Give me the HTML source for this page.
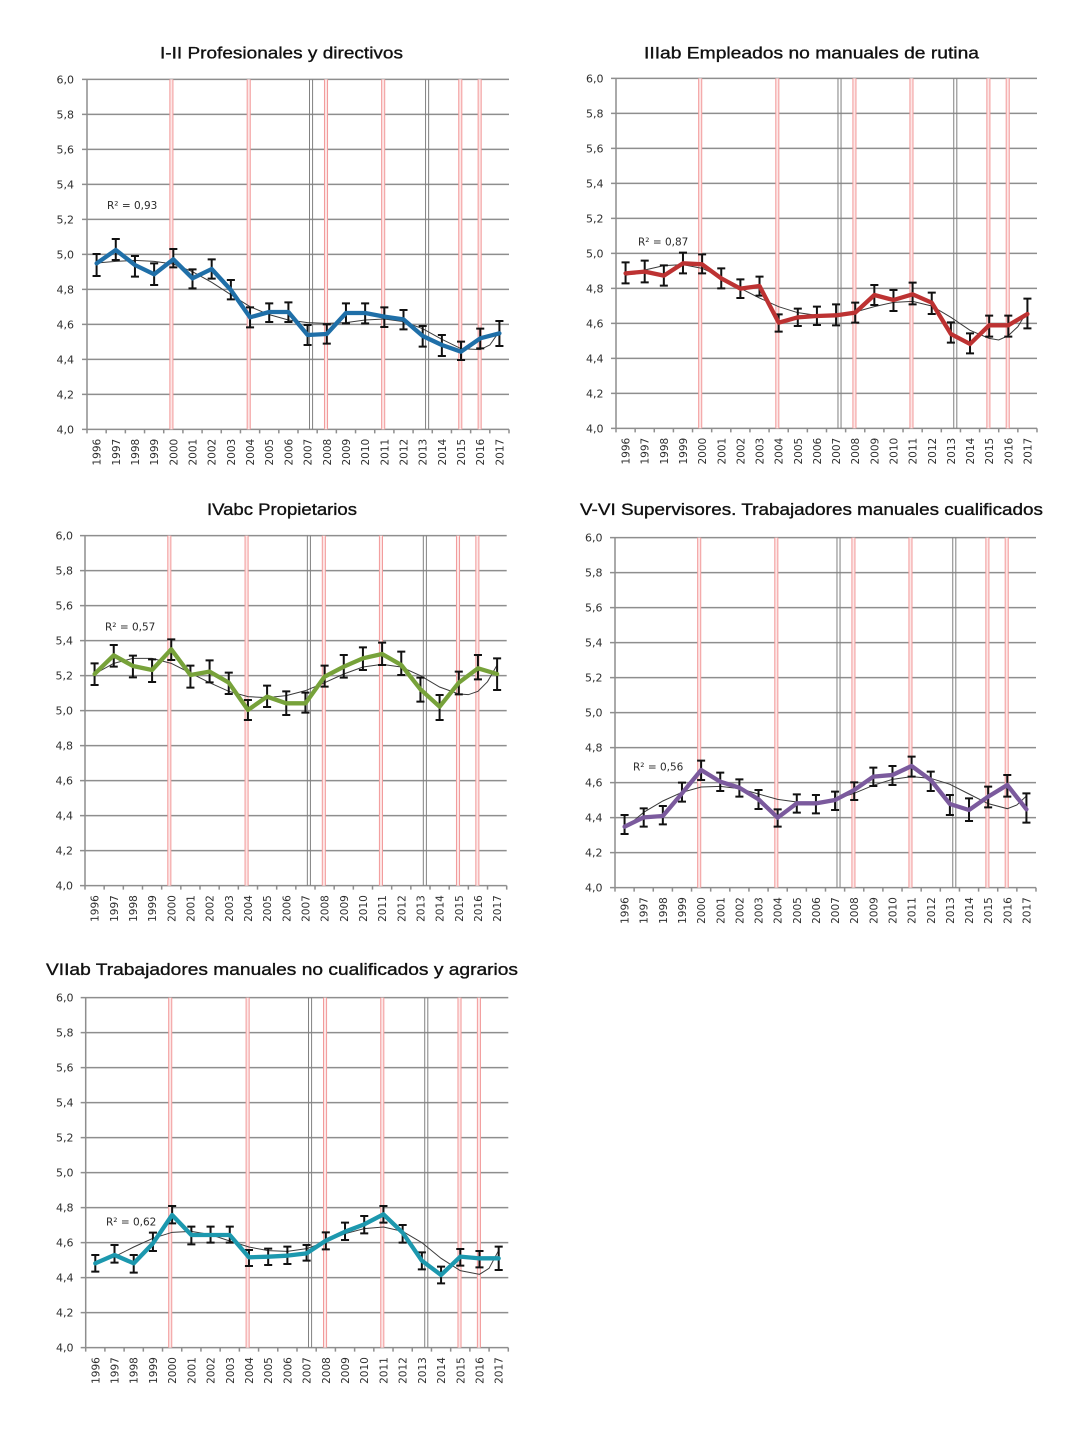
<!DOCTYPE html>
<html><head><meta charset="utf-8"><style>
html,body{margin:0;padding:0;background:#fff}
svg{display:block}
.t{font-family:"Liberation Sans",sans-serif;font-size:17px;fill:#111;stroke:#111;stroke-width:0.35}
.yl{font-family:"DejaVu Sans","Liberation Sans",sans-serif;font-size:11px;fill:#2e2e2e;text-anchor:end}
.xl{font-family:"DejaVu Sans","Liberation Sans",sans-serif;font-size:10.5px;fill:#2e2e2e;text-anchor:end}
.r2{font-family:"DejaVu Sans","Liberation Sans",sans-serif;font-size:10.5px;fill:#2a2a2a}
.ns{vector-effect:non-scaling-stroke;fill:none}
.grid{stroke:#8e8e8e;stroke-width:1.5}
.ax{stroke:#8e8e8e;stroke-width:1.5}
.red{stroke:#f29a9a;stroke-width:1}
.gry{stroke:#808080;stroke-width:1}
.trend{stroke:#3a3a3a;stroke-width:1}
.err{stroke:#111;stroke-width:2}
.ser{stroke-width:4.3;stroke-linejoin:round;stroke-linecap:round}
</style></head><body>
<svg width="1089" height="1438" viewBox="0 0 1089 1438" xmlns="http://www.w3.org/2000/svg">
<rect width="1089" height="1438" fill="#fff"/>

<!-- ================= CHART 1 ================= -->
<text class="t" x="160" y="58.5" textLength="243" lengthAdjust="spacingAndGlyphs">I-II Profesionales y directivos</text>
<g transform="translate(96.59,30) scale(19.182,0.333333)">
 <g transform="translate(0,148)">
  <path class="ns grid" d="M-.76,0H21.5M-.76,105H21.5M-.76,210H21.5M-.76,315H21.5M-.76,420H21.5M-.76,525H21.5M-.76,630H21.5M-.76,735H21.5M-.76,840H21.5M-.76,945H21.5M-.76,1050H21.5"/>
  <g fill="#fde6e6"><rect x="3.82" y="0" width=".16" height="1050"/><rect x="7.85" y="0" width=".16" height="1050"/><rect x="11.88" y="0" width=".16" height="1050"/><rect x="14.86" y="0" width=".16" height="1050"/><rect x="18.88" y="0" width=".16" height="1050"/><rect x="19.89" y="0" width=".16" height="1050"/></g>
  <path class="ns red" d="M3.82,0V1050M3.98,0V1050M7.85,0V1050M8.01,0V1050M11.88,0V1050M12.04,0V1050M14.86,0V1050M15.02,0V1050M18.88,0V1050M19.04,0V1050M19.89,0V1050M20.05,0V1050"/>
  <path class="ns gry" d="M11.1,0V1050M11.26,0V1050M17.15,0V1050M17.31,0V1050"/>
  <path class="ns ax" d="M-.5,0V1062M.5,1050v12M1.5,1050v12M2.5,1050v12M3.5,1050v12M4.5,1050v12M5.5,1050v12M6.5,1050v12M7.5,1050v12M8.5,1050v12M9.5,1050v12M10.5,1050v12M11.5,1050v12M12.5,1050v12M13.5,1050v12M14.5,1050v12M15.5,1050v12M16.5,1050v12M17.5,1050v12M18.5,1050v12M19.5,1050v12M20.5,1050v12M21.5,1050v12"/>
 </g>
 <polyline class="ns trend" points="0,699 1,694 2,691 3,694 4,702 5,725 6,757 7,794 8,830 9,854 10,870 11,878 12,880 13,878 14,870 15,867 16,875 17,896 18,928 19,956 20,959 20.5,945 21,904"/>
 <path class="ns err" d="M0,672V738M-.21,672H.21M-.21,738H.21M1,627V690M.79,627H1.21M.79,690H1.21M2,678V740M1.79,678H2.21M1.79,740H2.21M3,700V765M2.79,700H3.21M2.79,765H3.21M4,657V712M3.79,657H4.21M3.79,712H4.21M5,718V775M4.79,718H5.21M4.79,775H5.21M6,688V746M5.79,688H6.21M5.79,746H6.21M7,750V808M6.79,750H7.21M6.79,808H7.21M8,832V892M7.79,832H8.21M7.79,892H8.21M9,820V876M8.79,820H9.21M8.79,876H9.21M10,817V876M9.79,817H10.21M9.79,876H10.21M11,885V945M10.79,885H11.21M10.79,945H11.21M12,883V941M11.79,883H12.21M11.79,941H12.21M13,820V880M12.79,820H13.21M12.79,880H13.21M14,820V880M13.79,820H14.21M13.79,880H14.21M15,832V891M14.79,832H15.21M14.79,891H15.21M16,840V898M15.79,840H16.21M15.79,898H16.21M17,888V950M16.79,888H17.21M16.79,950H17.21M18,915V978M17.79,915H18.21M17.79,978H18.21M19,935V990M18.79,935H19.21M18.79,990H19.21M20,896V955M19.79,896H20.21M19.79,955H20.21M21,873V948M20.79,873H21.21M20.79,948H21.21"/>
 <polyline class="ns ser" stroke="#1f6fa8" points="0,700 1,660 2,705 3,733 4,688 5,745 6,717 7,780 8,862 9,846 10,846 11,915 12,912 13,849 14,849 15,860 16,868 17,918 18,945 19,965 20,925 21,910"/>
</g>
<g class="yl"><text x="74" y="83.3">6,0</text><text x="74" y="118.3">5,8</text><text x="74" y="153.3">5,6</text><text x="74" y="188.3">5,4</text><text x="74" y="223.3">5,2</text><text x="74" y="258.3">5,0</text><text x="74" y="293.3">4,8</text><text x="74" y="328.3">4,6</text><text x="74" y="363.3">4,4</text><text x="74" y="398.3">4,2</text><text x="74" y="433.3">4,0</text></g>
<g class="xl" transform="rotate(-90)"><text x="-438.8" y="100.6">1996</text><text x="-438.8" y="119.8">1997</text><text x="-438.8" y="139.0">1998</text><text x="-438.8" y="158.1">1999</text><text x="-438.8" y="177.3">2000</text><text x="-438.8" y="196.5">2001</text><text x="-438.8" y="215.7">2002</text><text x="-438.8" y="234.9">2003</text><text x="-438.8" y="254.0">2004</text><text x="-438.8" y="273.2">2005</text><text x="-438.8" y="292.4">2006</text><text x="-438.8" y="311.6">2007</text><text x="-438.8" y="330.8">2008</text><text x="-438.8" y="350.0">2009</text><text x="-438.8" y="369.1">2010</text><text x="-438.8" y="388.3">2011</text><text x="-438.8" y="407.5">2012</text><text x="-438.8" y="426.7">2013</text><text x="-438.8" y="445.9">2014</text><text x="-438.8" y="465.0">2015</text><text x="-438.8" y="484.2">2016</text><text x="-438.8" y="503.4">2017</text></g>
<text class="r2" x="107" y="209">R² = 0,93</text>

<!-- ================= CHART 2 ================= -->
<text class="t" x="644" y="58.5" textLength="335" lengthAdjust="spacingAndGlyphs">IIIab Empleados no manuales de rutina</text>
<g transform="translate(625.57,30) scale(19.136,0.333333)">
 <g transform="translate(0,145)">
  <path class="ns grid" d="M-.76,0H21.5M-.76,105H21.5M-.76,210H21.5M-.76,315H21.5M-.76,420H21.5M-.76,525H21.5M-.76,630H21.5M-.76,735H21.5M-.76,840H21.5M-.76,945H21.5M-.76,1050H21.5"/>
  <g fill="#fde6e6"><rect x="3.82" y="0" width=".16" height="1050"/><rect x="7.85" y="0" width=".16" height="1050"/><rect x="11.88" y="0" width=".16" height="1050"/><rect x="14.86" y="0" width=".16" height="1050"/><rect x="18.88" y="0" width=".16" height="1050"/><rect x="19.89" y="0" width=".16" height="1050"/></g>
  <path class="ns red" d="M3.82,0V1050M3.98,0V1050M7.85,0V1050M8.01,0V1050M11.88,0V1050M12.04,0V1050M14.86,0V1050M15.02,0V1050M18.88,0V1050M19.04,0V1050M19.89,0V1050M20.05,0V1050"/>
  <path class="ns gry" d="M11.1,0V1050M11.26,0V1050M17.15,0V1050M17.31,0V1050"/>
  <path class="ns ax" d="M-.5,0V1062M.5,1050v12M1.5,1050v12M2.5,1050v12M3.5,1050v12M4.5,1050v12M5.5,1050v12M6.5,1050v12M7.5,1050v12M8.5,1050v12M9.5,1050v12M10.5,1050v12M11.5,1050v12M12.5,1050v12M13.5,1050v12M14.5,1050v12M15.5,1050v12M16.5,1050v12M17.5,1050v12M18.5,1050v12M19.5,1050v12M20.5,1050v12M21.5,1050v12"/>
 </g>
 <polyline class="ns trend" points="0,736 1,720 2,707 3,704 4,715 5,741 6,775 7,804 8,830 9,848 10,856 11,856 12,846 13,830 14,817 15,814 16,828 17,862 18,901 19,925 19.5,930 20,917 20.5,890 21,843"/>
 <path class="ns err" d="M0,697V760M-.21,697H.21M-.21,760H.21M1,692V757M.79,692H1.21M.79,757H1.21M2,706V767M1.79,706H2.21M1.79,767H2.21M3,668V730M2.79,668H3.21M2.79,730H3.21M4,673V730M3.79,673H4.21M3.79,730H4.21M5,715V775M4.79,715H5.21M4.79,775H5.21M6,748V804M5.79,748H6.21M5.79,804H6.21M7,740V797M6.79,740H7.21M6.79,797H7.21M8,853V905M7.79,853H8.21M7.79,905H8.21M9,836V888M8.79,836H9.21M8.79,888H9.21M10,830V885M9.79,830H10.21M9.79,885H10.21M11,823V886M10.79,823H11.21M10.79,886H11.21M12,818V878M11.79,818H12.21M11.79,878H12.21M13,765V825M12.79,765H13.21M12.79,825H13.21M14,780V843M13.79,780H14.21M13.79,843H14.21M15,758V823M14.79,758H15.21M14.79,823H15.21M16,788V852M15.79,788H16.21M15.79,852H16.21M17,877V938M16.79,877H17.21M16.79,938H17.21M18,910V970M17.79,910H18.21M17.79,970H18.21M19,857V920M18.79,857H19.21M18.79,920H19.21M20,857V920M19.79,857H20.21M19.79,920H20.21M21,806V895M20.79,806H21.21M20.79,895H21.21"/>
 <polyline class="ns ser" stroke="#bd3232" points="0,730 1,725 2,737 3,700 4,703 5,745 6,776 7,768 8,878 9,862 10,858 11,856 12,848 13,795 14,810 15,793 16,818 17,912 18,942 19,886 20,886 21,852"/>
</g>
<g class="yl"><text x="603.5" y="82.3">6,0</text><text x="603.5" y="117.3">5,8</text><text x="603.5" y="152.3">5,6</text><text x="603.5" y="187.3">5,4</text><text x="603.5" y="222.3">5,2</text><text x="603.5" y="257.3">5,0</text><text x="603.5" y="292.3">4,8</text><text x="603.5" y="327.3">4,6</text><text x="603.5" y="362.3">4,4</text><text x="603.5" y="397.3">4,2</text><text x="603.5" y="432.3">4,0</text></g>
<g class="xl" transform="rotate(-90)"><text x="-437.8" y="629.6">1996</text><text x="-437.8" y="648.7">1997</text><text x="-437.8" y="667.8">1998</text><text x="-437.8" y="687.0">1999</text><text x="-437.8" y="706.1">2000</text><text x="-437.8" y="725.3">2001</text><text x="-437.8" y="744.4">2002</text><text x="-437.8" y="763.5">2003</text><text x="-437.8" y="782.7">2004</text><text x="-437.8" y="801.8">2005</text><text x="-437.8" y="820.9">2006</text><text x="-437.8" y="840.1">2007</text><text x="-437.8" y="859.2">2008</text><text x="-437.8" y="878.3">2009</text><text x="-437.8" y="897.5">2010</text><text x="-437.8" y="916.6">2011</text><text x="-437.8" y="935.8">2012</text><text x="-437.8" y="954.9">2013</text><text x="-437.8" y="974.0">2014</text><text x="-437.8" y="993.2">2015</text><text x="-437.8" y="1012.3">2016</text><text x="-437.8" y="1031.4">2017</text></g>
<text class="r2" x="638" y="245.7">R² = 0,87</text>

<!-- ================= CHART 3 ================= -->
<text class="t" x="207" y="515" textLength="150" lengthAdjust="spacingAndGlyphs">IVabc Propietarios</text>
<g transform="translate(94.58,490) scale(19.168,0.333333)">
 <g transform="translate(0,137)">
  <path class="ns grid" d="M-.76,0H21.5M-.76,105H21.5M-.76,210H21.5M-.76,315H21.5M-.76,420H21.5M-.76,525H21.5M-.76,630H21.5M-.76,735H21.5M-.76,840H21.5M-.76,945H21.5M-.76,1050H21.5"/>
  <g fill="#fde6e6"><rect x="3.82" y="0" width=".16" height="1050"/><rect x="7.85" y="0" width=".16" height="1050"/><rect x="11.88" y="0" width=".16" height="1050"/><rect x="14.86" y="0" width=".16" height="1050"/><rect x="18.88" y="0" width=".16" height="1050"/><rect x="19.89" y="0" width=".16" height="1050"/></g>
  <path class="ns red" d="M3.82,0V1050M3.98,0V1050M7.85,0V1050M8.01,0V1050M11.88,0V1050M12.04,0V1050M14.86,0V1050M15.02,0V1050M18.88,0V1050M19.04,0V1050M19.89,0V1050M20.05,0V1050"/>
  <path class="ns gry" d="M11.1,0V1050M11.26,0V1050M17.15,0V1050M17.31,0V1050"/>
  <path class="ns ax" d="M-.5,0V1062M.5,1050v12M1.5,1050v12M2.5,1050v12M3.5,1050v12M4.5,1050v12M5.5,1050v12M6.5,1050v12M7.5,1050v12M8.5,1050v12M9.5,1050v12M10.5,1050v12M11.5,1050v12M12.5,1050v12M13.5,1050v12M14.5,1050v12M15.5,1050v12M16.5,1050v12M17.5,1050v12M18.5,1050v12M19.5,1050v12M20.5,1050v12M21.5,1050v12"/>
 </g>
 <polyline class="ns trend" points="0,552 1,520 2,505 3,505 4,520 5,549 6,578 7,604 8,620 9,623 10,617 11,602 12,578 13,552 14,531 15,523 16,531 17,557 18,591 19,612 19.5,614 20,604 20.5,575 21,525"/>
 <path class="ns err" d="M0,520V585M-.21,520H.21M-.21,585H.21M1,465V530M.79,465H1.21M.79,530H1.21M2,497V562M1.79,497H2.21M1.79,562H2.21M3,508V576M2.79,508H3.21M2.79,576H3.21M4,448V510M3.79,448H4.21M3.79,510H4.21M5,527V593M4.79,527H5.21M4.79,593H5.21M6,511V577M5.79,511H6.21M5.79,577H6.21M7,548V612M6.79,548H7.21M6.79,612H7.21M8,630V690M7.79,630H8.21M7.79,690H8.21M9,587V651M8.79,587H9.21M8.79,651H9.21M10,604V675M9.79,604H10.21M9.79,675H10.21M11,608V668M10.79,608H11.21M10.79,668H11.21M12,527V590M11.79,527H12.21M11.79,590H12.21M13,495V563M12.79,495H13.21M12.79,563H13.21M14,472V540M13.79,472H14.21M13.79,540H14.21M15,458V525M14.79,458H15.21M14.79,525H15.21M16,485V555M15.79,485H16.21M15.79,555H16.21M17,563V635M16.79,563H17.21M16.79,635H17.21M18,615V690M17.79,615H18.21M17.79,690H18.21M19,545V613M18.79,545H19.21M18.79,613H19.21M20,495V568M19.79,495H20.21M19.79,568H20.21M21,505V600M20.79,505H21.21M20.79,600H21.21"/>
 <polyline class="ns ser" stroke="#77a23a" points="0,552 1,496 2,528 3,540 4,478 5,555 6,545 7,578 8,660 9,620 10,640 11,640 12,560 13,530 14,505 15,492 16,525 17,598 18,650 19,578 20,535 21,552"/>
</g>
<g class="yl"><text x="73" y="539.7">6,0</text><text x="73" y="574.7">5,8</text><text x="73" y="609.7">5,6</text><text x="73" y="644.7">5,4</text><text x="73" y="679.7">5,2</text><text x="73" y="714.7">5,0</text><text x="73" y="749.7">4,8</text><text x="73" y="784.7">4,6</text><text x="73" y="819.7">4,4</text><text x="73" y="854.7">4,2</text><text x="73" y="889.7">4,0</text></g>
<g class="xl" transform="rotate(-90)"><text x="-895.2" y="98.6">1996</text><text x="-895.2" y="117.8">1997</text><text x="-895.2" y="136.9">1998</text><text x="-895.2" y="156.1">1999</text><text x="-895.2" y="175.3">2000</text><text x="-895.2" y="194.4">2001</text><text x="-895.2" y="213.6">2002</text><text x="-895.2" y="232.8">2003</text><text x="-895.2" y="251.9">2004</text><text x="-895.2" y="271.1">2005</text><text x="-895.2" y="290.3">2006</text><text x="-895.2" y="309.4">2007</text><text x="-895.2" y="328.6">2008</text><text x="-895.2" y="347.8">2009</text><text x="-895.2" y="366.9">2010</text><text x="-895.2" y="386.1">2011</text><text x="-895.2" y="405.3">2012</text><text x="-895.2" y="424.4">2013</text><text x="-895.2" y="443.6">2014</text><text x="-895.2" y="462.8">2015</text><text x="-895.2" y="481.9">2016</text><text x="-895.2" y="501.1">2017</text></g>
<text class="r2" x="105" y="630.7">R² = 0,57</text>

<!-- ================= CHART 4 ================= -->
<text class="t" x="580" y="515" textLength="463" lengthAdjust="spacingAndGlyphs">V-VI Supervisores. Trabajadores manuales cualificados</text>
<g transform="translate(624.57,490) scale(19.136,0.333333)">
 <g transform="translate(0,143)">
  <path class="ns grid" d="M-.76,0H21.5M-.76,105H21.5M-.76,210H21.5M-.76,315H21.5M-.76,420H21.5M-.76,525H21.5M-.76,630H21.5M-.76,735H21.5M-.76,840H21.5M-.76,945H21.5M-.76,1050H21.5"/>
  <g fill="#fde6e6"><rect x="3.82" y="0" width=".16" height="1050"/><rect x="7.85" y="0" width=".16" height="1050"/><rect x="11.88" y="0" width=".16" height="1050"/><rect x="14.86" y="0" width=".16" height="1050"/><rect x="18.88" y="0" width=".16" height="1050"/><rect x="19.89" y="0" width=".16" height="1050"/></g>
  <path class="ns red" d="M3.82,0V1050M3.98,0V1050M7.85,0V1050M8.01,0V1050M11.88,0V1050M12.04,0V1050M14.86,0V1050M15.02,0V1050M18.88,0V1050M19.04,0V1050M19.89,0V1050M20.05,0V1050"/>
  <path class="ns gry" d="M11.1,0V1050M11.26,0V1050M17.15,0V1050M17.31,0V1050"/>
  <path class="ns ax" d="M-.5,0V1062M.5,1050v12M1.5,1050v12M2.5,1050v12M3.5,1050v12M4.5,1050v12M5.5,1050v12M6.5,1050v12M7.5,1050v12M8.5,1050v12M9.5,1050v12M10.5,1050v12M11.5,1050v12M12.5,1050v12M13.5,1050v12M14.5,1050v12M15.5,1050v12M16.5,1050v12M17.5,1050v12M18.5,1050v12M19.5,1050v12M20.5,1050v12M21.5,1050v12"/>
 </g>
 <polyline class="ns trend" points="0,1015 1,967 2,933 3,907 4,891 5,889 6,896 7,912 8,928 9,936 10,936 11,928 12,910 13,886 14,868 15,860 16,865 17,883 18,912 19,941 20,956 20.5,945 21,918"/>
 <path class="ns err" d="M0,975V1032M-.21,975H.21M-.21,1032H.21M1,955V1010M.79,955H1.21M.79,1010H1.21M2,948V1003M1.79,948H2.21M1.79,1003H2.21M3,878V935M2.79,878H3.21M2.79,935H3.21M4,812V870M3.79,812H4.21M3.79,870H4.21M5,848V903M4.79,848H5.21M4.79,903H5.21M6,868V920M5.79,868H6.21M5.79,920H6.21M7,900V957M6.79,900H7.21M6.79,957H7.21M8,958V1010M7.79,958H8.21M7.79,1010H8.21M9,913V968M8.79,913H9.21M8.79,968H9.21M10,915V970M9.79,915H10.21M9.79,970H10.21M11,905V960M10.79,905H11.21M10.79,960H11.21M12,877V930M11.79,877H12.21M11.79,930H12.21M13,833V888M12.79,833H13.21M12.79,888H13.21M14,828V885M13.79,828H14.21M13.79,885H14.21M15,800V860M14.79,800H15.21M14.79,860H15.21M16,845V903M15.79,845H16.21M15.79,903H16.21M17,915V975M16.79,915H17.21M16.79,975H17.21M18,925V993M17.79,925H18.21M17.79,993H18.21M19,890V952M18.79,890H19.21M18.79,952H19.21M20,855V920M19.79,855H20.21M19.79,920H20.21M21,910V998M20.79,910H21.21M20.79,998H21.21"/>
 <polyline class="ns ser" stroke="#7b5a9d" points="0,1010 1,982 2,978 3,910 4,840 5,875 6,893 7,928 8,983 9,940 10,940 11,930 12,900 13,860 14,855 15,828 16,870 17,942 18,960 19,920 20,885 21,958"/>
</g>
<g class="yl"><text x="602.5" y="541.7">6,0</text><text x="602.5" y="576.7">5,8</text><text x="602.5" y="611.7">5,6</text><text x="602.5" y="646.7">5,4</text><text x="602.5" y="681.7">5,2</text><text x="602.5" y="716.7">5,0</text><text x="602.5" y="751.7">4,8</text><text x="602.5" y="786.7">4,6</text><text x="602.5" y="821.7">4,4</text><text x="602.5" y="856.7">4,2</text><text x="602.5" y="891.7">4,0</text></g>
<g class="xl" transform="rotate(-90)"><text x="-897.2" y="628.6">1996</text><text x="-897.2" y="647.7">1997</text><text x="-897.2" y="666.8">1998</text><text x="-897.2" y="686.0">1999</text><text x="-897.2" y="705.1">2000</text><text x="-897.2" y="724.3">2001</text><text x="-897.2" y="743.4">2002</text><text x="-897.2" y="762.5">2003</text><text x="-897.2" y="781.7">2004</text><text x="-897.2" y="800.8">2005</text><text x="-897.2" y="819.9">2006</text><text x="-897.2" y="839.1">2007</text><text x="-897.2" y="858.2">2008</text><text x="-897.2" y="877.3">2009</text><text x="-897.2" y="896.5">2010</text><text x="-897.2" y="915.6">2011</text><text x="-897.2" y="934.8">2012</text><text x="-897.2" y="953.9">2013</text><text x="-897.2" y="973.0">2014</text><text x="-897.2" y="992.2">2015</text><text x="-897.2" y="1011.3">2016</text><text x="-897.2" y="1030.4">2017</text></g>
<text class="r2" x="633" y="770.7">R² = 0,56</text>

<!-- ================= CHART 5 ================= -->
<text class="t" x="46" y="975" textLength="472" lengthAdjust="spacingAndGlyphs">VIIab Trabajadores manuales no cualificados y agrarios</text>
<g transform="translate(95.30,950) scale(19.209,0.333333)">
 <g transform="translate(0,143)">
  <path class="ns grid" d="M-.76,0H21.5M-.76,105H21.5M-.76,210H21.5M-.76,315H21.5M-.76,420H21.5M-.76,525H21.5M-.76,630H21.5M-.76,735H21.5M-.76,840H21.5M-.76,945H21.5M-.76,1050H21.5"/>
  <g fill="#fde6e6"><rect x="3.82" y="0" width=".16" height="1050"/><rect x="7.85" y="0" width=".16" height="1050"/><rect x="11.88" y="0" width=".16" height="1050"/><rect x="14.86" y="0" width=".16" height="1050"/><rect x="18.88" y="0" width=".16" height="1050"/><rect x="19.89" y="0" width=".16" height="1050"/></g>
  <path class="ns red" d="M3.82,0V1050M3.98,0V1050M7.85,0V1050M8.01,0V1050M11.88,0V1050M12.04,0V1050M14.86,0V1050M15.02,0V1050M18.88,0V1050M19.04,0V1050M19.89,0V1050M20.05,0V1050"/>
  <path class="ns gry" d="M11.1,0V1050M11.26,0V1050M17.15,0V1050M17.31,0V1050"/>
  <path class="ns ax" d="M-.5,0V1062M.5,1050v12M1.5,1050v12M2.5,1050v12M3.5,1050v12M4.5,1050v12M5.5,1050v12M6.5,1050v12M7.5,1050v12M8.5,1050v12M9.5,1050v12M10.5,1050v12M11.5,1050v12M12.5,1050v12M13.5,1050v12M14.5,1050v12M15.5,1050v12M16.5,1050v12M17.5,1050v12M18.5,1050v12M19.5,1050v12M20.5,1050v12M21.5,1050v12"/>
 </g>
 <polyline class="ns trend" points="0,941 1,920 2,891 3,865 4,847 5,844 6,854 7,873 8,891 9,902 10,904 11,896 12,875 13,851 14,836 15,831 16,844 17,878 18,925 19,962 20,973 20.5,955 21,901"/>
 <path class="ns err" d="M0,915V965M-.21,915H.21M-.21,965H.21M1,885V938M.79,885H1.21M.79,938H1.21M2,915V968M1.79,915H2.21M1.79,968H2.21M3,848V903M2.79,848H3.21M2.79,903H3.21M4,768V820M3.79,768H4.21M3.79,820H4.21M5,830V883M4.79,830H5.21M4.79,883H5.21M6,830V878M5.79,830H6.21M5.79,878H6.21M7,830V878M6.79,830H7.21M6.79,878H7.21M8,900V948M7.79,900H8.21M7.79,948H8.21M9,896V945M8.79,896H9.21M8.79,945H9.21M10,890V942M9.79,890H10.21M9.79,942H10.21M11,885V932M10.79,885H11.21M10.79,932H11.21M12,847V898M11.79,847H12.21M11.79,898H12.21M13,818V870M12.79,818H13.21M12.79,870H13.21M14,798V850M13.79,798H14.21M13.79,850H14.21M15,768V818M14.79,768H15.21M14.79,818H15.21M16,825V878M15.79,825H16.21M15.79,878H16.21M17,907V958M16.79,907H17.21M16.79,958H17.21M18,950V1000M17.79,950H18.21M17.79,1000H18.21M19,897V947M18.79,897H19.21M18.79,947H19.21M20,903V952M19.79,903H20.21M19.79,952H20.21M21,890V960M20.79,890H21.21M20.79,960H21.21"/>
 <polyline class="ns ser" stroke="#1c98ae" points="0,940 1,915 2,940 3,880 4,795 5,855 6,855 7,855 8,922 9,920 10,917 11,910 12,872 13,845 14,823 15,793 16,848 17,932 18,975 19,920 20,925 21,925"/>
</g>
<g class="yl"><text x="73.5" y="1001.7">6,0</text><text x="73.5" y="1036.7">5,8</text><text x="73.5" y="1071.7">5,6</text><text x="73.5" y="1106.7">5,4</text><text x="73.5" y="1141.7">5,2</text><text x="73.5" y="1176.7">5,0</text><text x="73.5" y="1211.7">4,8</text><text x="73.5" y="1246.7">4,6</text><text x="73.5" y="1281.7">4,4</text><text x="73.5" y="1316.7">4,2</text><text x="73.5" y="1351.7">4,0</text></g>
<g class="xl" transform="rotate(-90)"><text x="-1357.2" y="99.3">1996</text><text x="-1357.2" y="118.5">1997</text><text x="-1357.2" y="137.7">1998</text><text x="-1357.2" y="156.9">1999</text><text x="-1357.2" y="176.1">2000</text><text x="-1357.2" y="195.3">2001</text><text x="-1357.2" y="214.6">2002</text><text x="-1357.2" y="233.8">2003</text><text x="-1357.2" y="253.0">2004</text><text x="-1357.2" y="272.2">2005</text><text x="-1357.2" y="291.4">2006</text><text x="-1357.2" y="310.6">2007</text><text x="-1357.2" y="329.8">2008</text><text x="-1357.2" y="349.0">2009</text><text x="-1357.2" y="368.2">2010</text><text x="-1357.2" y="387.4">2011</text><text x="-1357.2" y="406.6">2012</text><text x="-1357.2" y="425.9">2013</text><text x="-1357.2" y="445.1">2014</text><text x="-1357.2" y="464.3">2015</text><text x="-1357.2" y="483.5">2016</text><text x="-1357.2" y="502.7">2017</text></g>
<text class="r2" x="106" y="1225.7">R² = 0,62</text>

</svg>
</body></html>
